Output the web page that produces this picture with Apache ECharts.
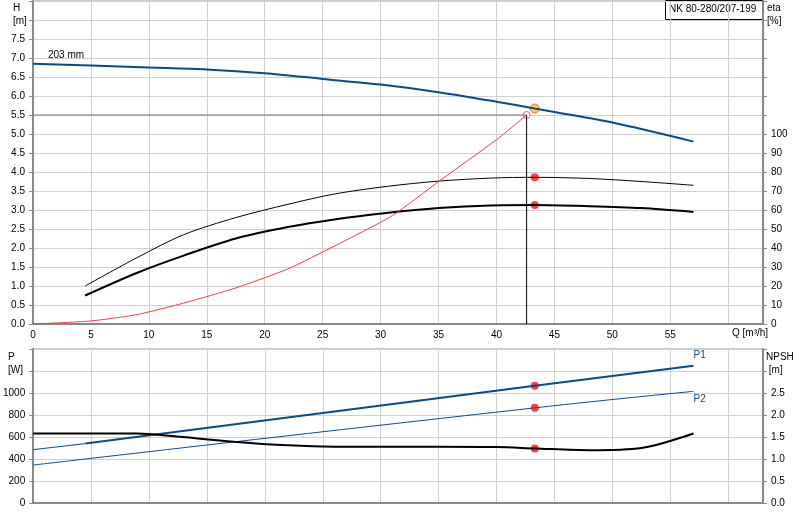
<!DOCTYPE html>
<html><head><meta charset="utf-8">
<script src="https://cdn.jsdelivr.net/npm/echarts@6/dist/echarts.min.js"></script>
<style>html,body{margin:0;background:#fff}#c{width:800px;height:520px}</style>
</head><body><div id="c"></div>
<script>
const headQ=[0,5,10,15,20,25,30,35,40,43.3,45,50,57];
const headH=[6.85,6.8,6.75,6.7,6.6,6.45,6.3,6.1,5.85,5.67,5.58,5.3,4.8];
const etaQ=[4.5,9,13,17.5,22,26,30.5,35,39.5,43.3,48,52.5,57];
const etaTotal=[20,35,47,56,63,68.4,72.4,75.2,76.8,77.2,76.6,75,73];
const etaPump=[15,27,36,45,51,55,58.4,61,62.4,62.6,62,61,59];
const sysQ=[0,5,9,13,17.5,22,26,31,35,40,42.6];
const sysH=[0,0.08,0.25,0.55,0.95,1.45,2.05,2.85,3.75,4.85,5.5];
const pQ=[0,4.5,43.3,57];
const p1=[485,540,1065,1248];
const p2Q=[0,43.3,57];
const p2=[345,865,1015];
const npshQ=[0,4.5,9,12,17,22,26,35,40,43.3,48,52.5,57];
const npsh=[1.58,1.58,1.58,1.52,1.4,1.31,1.28,1.28,1.27,1.24,1.2,1.25,1.58];
const duty={q:43.3,h:5.67,etaT:77.2,etaP:62.6,p1:1065,p2:865,npsh:1.24};
const sysPt={q:42.6,h:5.5};
const xTicks=[0,5,10,15,20,25,30,35,40,45,50,55];

const z=(a,b)=>a.map((v,i)=>[v,b[i]]);
const F='Liberation Sans, Arial, sans-serif';
const lab={fontFamily:F,fontSize:10,color:'#000'};
const gl={show:true,lineStyle:{color:'#d0d0d0'}};
const ax={show:true,lineStyle:{color:'#888',width:2}};
function xa(gi,show){return {type:'value',gridIndex:gi,min:0,max:63,interval:5,
  axisLine:ax,axisTick:{show:false},splitLine:gl,
  axisLabel:{show:show,...lab,margin:6,formatter:v=>xTicks.includes(v)?String(v):''}};}
function ya(gi,max,iv,pos,fmt){return {type:'value',gridIndex:gi,min:0,max:max,interval:iv,position:pos,
  axisLine:ax,axisTick:{show:true,length:4,lineStyle:{color:'#888'}},splitLine:pos==='left'?gl:{show:false},
  axisLabel:{...lab,formatter:fmt}};}
const chart=echarts.init(document.getElementById('c'));
const blue='#0b4a8a';
const dot=(c)=>({symbol:'circle',symbolSize:8,itemStyle:{color:c}});
chart.setOption({animation:false,
 grid:[{left:33,right:37,top:1,height:323,show:true,borderColor:'#999'},
       {left:33,right:37,top:349,height:154,show:true,borderColor:'#999'}],
 xAxis:[xa(0,true),xa(1,false)],
 yAxis:[ya(0,8.5,0.5,'left',v=>v<8?v.toFixed(1):''),
        ya(0,170,10,'right',v=>v<=100?String(v):''),
        ya(1,1400,200,'left',v=>v<=1000?String(v):''),
        ya(1,3.5,0.5,'right',v=>v<=2.5?v.toFixed(1):'')],
 series:[
  {type:'line',xAxisIndex:0,yAxisIndex:0,data:z(headQ,headH),smooth:0.3,showSymbol:false,lineStyle:{color:blue,width:2}},
  {type:'line',xAxisIndex:0,yAxisIndex:1,data:z(etaQ,etaTotal),smooth:0.3,showSymbol:false,lineStyle:{color:'#000',width:1}},
  {type:'line',xAxisIndex:0,yAxisIndex:1,data:z(etaQ,etaPump),smooth:0.3,showSymbol:false,lineStyle:{color:'#000',width:2}},
  {type:'line',xAxisIndex:0,yAxisIndex:0,data:z(sysQ,sysH),smooth:0.2,showSymbol:false,lineStyle:{color:'#f04040',width:1}},
  {type:'line',xAxisIndex:0,yAxisIndex:0,data:[[0,sysPt.h],[sysPt.q,sysPt.h]],showSymbol:false,lineStyle:{color:'#777',width:1}},
  {type:'line',xAxisIndex:0,yAxisIndex:0,data:[[sysPt.q,sysPt.h],[sysPt.q,0]],showSymbol:false,lineStyle:{color:'#000',width:1}},
  {type:'scatter',xAxisIndex:0,yAxisIndex:0,data:[[sysPt.q,sysPt.h]],symbol:'circle',symbolSize:7,itemStyle:{color:'#fff',borderColor:'#f04040',borderWidth:1}},
  {type:'scatter',xAxisIndex:0,yAxisIndex:0,data:[[duty.q,duty.h]],symbol:'circle',symbolSize:9,itemStyle:{color:'#ffd000',borderColor:'#f04040',borderWidth:1}},
  {type:'scatter',xAxisIndex:0,yAxisIndex:1,data:[[duty.q,duty.etaT],[duty.q,duty.etaP]],...dot('#ff1010')},
  {type:'line',xAxisIndex:1,yAxisIndex:2,data:z(pQ.slice(0,2),p1.slice(0,2)),showSymbol:false,lineStyle:{color:blue,width:1}},
  {type:'line',xAxisIndex:1,yAxisIndex:2,data:z(pQ.slice(1),p1.slice(1)),showSymbol:false,lineStyle:{color:blue,width:2},
   endLabel:{show:true,formatter:'P1',color:blue,fontFamily:F,fontSize:10,offset:[-8,-10]}},
  {type:'line',xAxisIndex:1,yAxisIndex:2,data:z(p2Q,p2),smooth:true,showSymbol:false,lineStyle:{color:blue,width:1},
   endLabel:{show:true,formatter:'P2',color:blue,fontFamily:F,fontSize:10,offset:[-8,8]}},
  {type:'line',xAxisIndex:1,yAxisIndex:3,data:z(npshQ,npsh),smooth:0.3,showSymbol:false,lineStyle:{color:'#000',width:2}},
  {type:'scatter',xAxisIndex:1,yAxisIndex:2,data:[[duty.q,duty.p1],[duty.q,duty.p2]],...dot('#ff1010')},
  {type:'scatter',xAxisIndex:1,yAxisIndex:3,data:[[duty.q,duty.npsh]],...dot('#ff1010')}
 ],
 graphic:[
  {type:'text',left:13,top:2,style:{text:'H\n[m]',fill:'#000',font:'10px '+F,align:'center',lineHeight:13}},
  {type:'text',left:767,top:2,style:{text:'eta\n[%]',fill:'#000',font:'10px '+F,lineHeight:13}},
  {type:'text',left:48,top:50,style:{text:'203 mm',fill:'#000',font:'10px '+F}},
  {type:'text',left:732,top:328,style:{text:'Q [m³/h]',fill:'#000',font:'10px '+F}},
  {type:'text',left:8,top:351,style:{text:'P\n[W]',fill:'#000',font:'10px '+F,lineHeight:13}},
  {type:'text',left:766,top:351,style:{text:'NPSH\n [m]',fill:'#000',font:'10px '+F,lineHeight:13}},
  {type:'rect',left:665,top:0,shape:{width:98,height:19},style:{fill:'#fff',stroke:'#000',lineWidth:1}},
  {type:'text',left:669,top:4,style:{text:'NK 80-280/207-199',fill:'#000',font:'10px '+F}}
 ]
});
</script></body></html>
